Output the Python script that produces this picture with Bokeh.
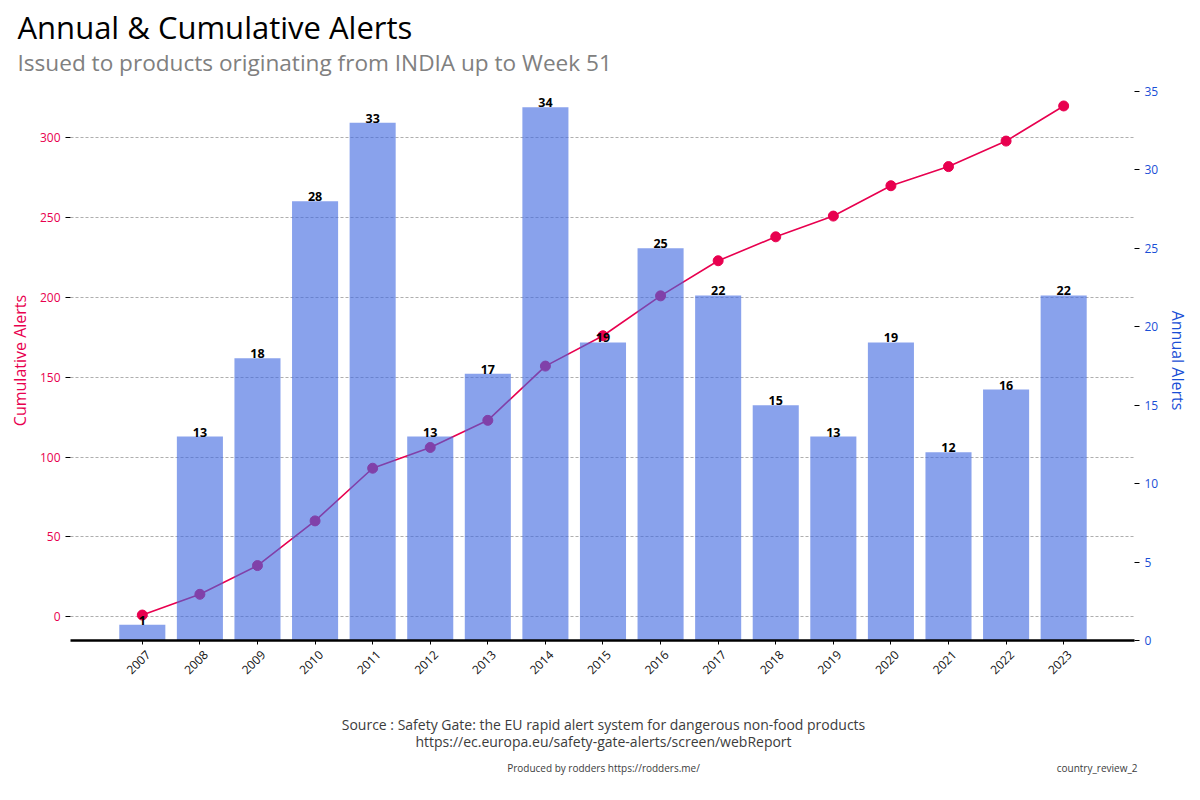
from bokeh.plotting import figure
from bokeh.models import Range1d, LinearAxis, FixedTicker, ColumnDataSource
from bokeh.layouts import column
from bokeh.core.properties import value
from bokeh.embed import file_html
from bokeh.resources import INLINE
import math

years = [2007, 2008, 2009, 2010, 2011, 2012, 2013, 2014, 2015, 2016, 2017, 2018, 2019, 2020, 2021, 2022, 2023]
annual = [1, 13, 18, 28, 33, 13, 17, 34, 19, 25, 22, 15, 13, 19, 12, 16, 22]
cumulative = []
_t = 0
for a in annual:
    _t += a
    cumulative.append(_t)
year_labels = [str(y) for y in years]

title_text = "Annual & Cumulative Alerts"
subtitle_text = "Issued to products originating from INDIA up to Week 51"
source_line1 = "Source : Safety Gate: the EU rapid alert system for dangerous non-food products"
source_line2 = "https://ec.europa.eu/safety-gate-alerts/screen/webReport"
produced_text = "Produced by rodders https://rodders.me/"
ref_text = "country_review_2"

RED = "#e8004f"
BLUE = "#1a4fd6"
FONT = "Open Sans"

W = 1192
TOP_H = 77          # header strip (0..77)
MAIN_END = 700      # main chart (77..700)
MAIN_H = MAIN_END - TOP_H
BOT_H = 88          # footer strip (700..788)
FL, FR = 70, 1137   # frame left/right
FT, FB = 80, 640    # frame top/bottom (page coords)


def no_align(f):
    if "frame_align" in type(f).properties():
        f.frame_align = False


def text_strip(h):
    f = figure(width=W, height=h, output_backend="svg", toolbar_location=None,
               x_range=Range1d(0, W), y_range=Range1d(h, 0),
               min_border=0, min_border_left=0, min_border_right=0,
               min_border_top=0, min_border_bottom=0)
    f.axis.visible = False
    f.grid.visible = False
    f.outline_line_color = None
    no_align(f)
    return f


# ---------- header ----------
top = text_strip(TOP_H)
top.text(x=[17], y=[26], text=[title_text], text_font=value(FONT), text_font_size="31px",
         text_color="black", text_align="left", text_baseline="middle")
top.text(x=[17], y=[61.5], text=[subtitle_text], text_font=value(FONT), text_font_size="22.6px",
         text_color="#808080", text_align="left", text_baseline="middle")

# ---------- main ----------
p = figure(width=W, height=MAIN_H, output_backend="svg", toolbar_location=None,
           x_range=Range1d(2005.753, 2024.23), y_range=Range1d(-14.95, 335.95),
           min_border_left=FL, min_border_right=W - FR, min_border_top=FT - TOP_H,
           min_border_bottom=MAIN_END - FB)
p.extra_y_ranges = {"right": Range1d(0, 35.7)}
p.outline_line_color = None
no_align(p)

src = ColumnDataSource(dict(x=years, annual=annual, cum=cumulative,
                            lab=[str(a) for a in annual]))

p.line("x", "cum", source=src, line_color=RED, line_width=1.6)
p.scatter("x", "cum", source=src, size=10, fill_color=RED, line_color=RED)

p.vbar(x="x", top="annual", width=0.8, bottom=0, source=src, y_range_name="right",
       fill_color="#4169e1", fill_alpha=0.62, line_color=None)

p.text(x="x", y="annual", text="lab", source=src, y_range_name="right",
       text_align="center", text_baseline="bottom", text_font=value(FONT),
       text_font_size="12.5px", text_font_style="bold", text_color="black")

p.xgrid.grid_line_color = None
p.ygrid.grid_line_color = "#777777"
p.ygrid.grid_line_dash = "3 2"
p.ygrid.grid_line_width = 0.6
p.ygrid.ticker = FixedTicker(ticks=[0, 50, 100, 150, 200, 250, 300])

# bottom axis: tick marks + axis line (labels empty)
xa = p.xaxis[0]
xa.ticker = FixedTicker(ticks=years)
xa.major_label_overrides = {y: "" for y in years}
xa.major_label_standoff = 0
xa.axis_line_color = "black"
xa.axis_line_width = 2.5
xa.major_tick_line_color = "black"
xa.major_tick_out = 4
xa.major_tick_in = 0
xa.minor_tick_line_color = None

# second bottom axis: rotated year labels, centred under the ticks
xl = LinearAxis()
xl.ticker = FixedTicker(ticks=[y + 0.1 for y in years])
xl.major_label_overrides = {y + 0.1: lab for y, lab in zip(years, year_labels)}
xl.major_label_orientation = math.pi / 4
xl.major_label_text_font = FONT
xl.major_label_text_font_size = "12px"
xl.major_label_text_color = "#111111"
xl.major_label_standoff = 2
xl.axis_line_color = None
xl.major_tick_line_color = None
xl.minor_tick_line_color = None
p.add_layout(xl, "below")

ya = p.yaxis[0]
ya.ticker = FixedTicker(ticks=[0, 50, 100, 150, 200, 250, 300])
ya.axis_label = "Cumulative Alerts"
ya.axis_label_text_font = FONT
ya.axis_label_text_font_size = "16px"
ya.axis_label_text_font_style = "normal"
ya.axis_label_text_color = RED
ya.major_label_text_font = FONT
ya.major_label_text_font_size = "12px"
ya.major_label_text_color = RED
ya.axis_line_color = None
ya.major_tick_line_color = "black"
ya.major_tick_out = 5
ya.major_tick_in = 0
ya.minor_tick_line_color = None
ya.axis_label_standoff = 6

ra = LinearAxis(y_range_name="right")
ra.ticker = FixedTicker(ticks=[0, 5, 10, 15, 20, 25, 30, 35])
ra.axis_label = "Annual Alerts"
ra.axis_label_text_font = FONT
ra.axis_label_text_font_size = "16px"
ra.axis_label_text_font_style = "normal"
ra.axis_label_text_color = BLUE
ra.major_label_text_font = FONT
ra.major_label_text_font_size = "12px"
ra.major_label_text_color = BLUE
ra.axis_line_color = None
ra.major_tick_line_color = "black"
ra.major_tick_out = 5
ra.major_tick_in = 0
ra.minor_tick_line_color = None
ra.axis_label_standoff = 6
p.add_layout(ra, "right")

# ---------- footer ----------
bot = text_strip(BOT_H)
bot.text(x=[603, 603], y=[24, 41], text=[source_line1, source_line2], text_font=value(FONT),
         text_font_size="14px", text_color="#3c3c3c", text_align="center", text_baseline="middle")
bot.text(x=[603], y=[67], text=[produced_text], text_font=value(FONT),
         text_font_size="10px", text_color="#3c3c3c", text_align="center", text_baseline="middle")
bot.text(x=[1137], y=[67], text=[ref_text], text_font=value(FONT),
         text_font_size="10px", text_color="#3c3c3c", text_align="right", text_baseline="middle")

layout = column(top, p, bot, spacing=0)
open("out.html", "w").write(file_html(layout, INLINE))
